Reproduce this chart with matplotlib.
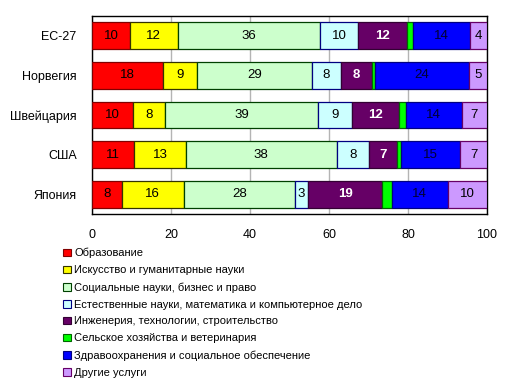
import matplotlib
matplotlib.use("Agg")
import matplotlib.pyplot as plt
from matplotlib.patches import Patch
import numpy as np

plt.rcParams['font.family'] = ['Liberation Sans', 'DejaVu Sans']

countries = ["ЕС-27", "Норвегия", "Швейцария", "США", "Япония"]
series_names = [
    "Образование",
    "Искусство и гуманитарные науки",
    "Социальные науки, бизнес и право",
    "Естественные науки, математика и компьютерное дело",
    "Инженерия, технологии, строительство",
    "Сельское хозяйства и ветеринария",
    "Здравоохранения и социальное обеспечение",
    "Другие услуги",
]
# values per series (order of countries)
education   = [9.6, 18.0, 10.4, 10.6, 7.6]
arts        = [12.1, 8.5, 8.1, 13.2, 15.6]
social      = [36.0, 29.2, 38.8, 38.1, 28.2]
science     = [9.7, 7.3, 8.6, 8.3, 3.3]
engineering = [12.3, 8.0, 11.9, 7.0, 18.8]
agriculture = [1.5, 0.6, 1.7, 1.0, 2.4]
health      = [14.6, 23.9, 14.1, 15.0, 14.1]
other       = [4.2, 4.5, 6.4, 6.8, 10.0]
series = [education, arts, social, science, engineering, agriculture, health, other]

# labels displayed on segments
label_education   = ["10", "18", "10", "11", "8"]
label_arts        = ["12", "9", "8", "13", "16"]
label_social      = ["36", "29", "39", "38", "28"]
label_science     = ["10", "8", "9", "8", "3"]
label_engineering = ["12", "8", "12", "7", "19"]
label_agriculture = ["", "", "", "", ""]
label_health      = ["14", "24", "14", "15", "14"]
label_other       = ["4", "5", "7", "7", "10"]
labels = [label_education, label_arts, label_social, label_science,
          label_engineering, label_agriculture, label_health, label_other]

x_ticks = [0, 20, 40, 60, 80, 100]

colors = ["#FF0000", "#FFFF00", "#CCFFCC", "#CCFFFF", "#660066", "#00FF00", "#0000FF", "#CC99FF"]
edges  = ["#800000", "#333300", "#004000", "#000080", "#330033", "#006600", "#000080", "#660066"]
txtcol = ["black", "black", "black", "black", "white", "black", "#000033", "black"]
txtwt  = ["normal", "normal", "normal", "normal", "bold", "normal", "normal", "normal"]

fig = plt.figure(figsize=(5.13, 3.92), dpi=100)
ax = fig.add_axes([92/513, 1-214/392, (487-92)/513, (214-16)/392])

y = np.arange(len(countries))
left = np.zeros(len(countries))
for vals, lab, c, e, tc, tw in zip(series, labels, colors, edges, txtcol, txtwt):
    bars = ax.barh(y, vals, left=left, height=0.68, color=c, edgecolor=e, linewidth=0.9, zorder=3)
    ax.bar_label(bars, labels=lab, label_type='center', color=tc, fontweight=tw, fontsize=9.5)
    left += np.array(vals)

ax.set_ylim(len(countries) - 0.5, -0.5)
ax.set_xlim(0, 100)
ax.set_yticks(y)
ax.set_yticklabels(countries, fontsize=9)
ax.set_xticks(x_ticks)
ax.set_xticklabels([str(t) for t in x_ticks], fontsize=9)
ax.tick_params(axis='both', length=0)
ax.tick_params(axis='y', pad=11)
ax.tick_params(axis='x', pad=11)
ax.xaxis.grid(True, color="#B4B4B4", linewidth=1.0, zorder=0)
ax.set_axisbelow(True)
for s in ax.spines.values():
    s.set_color("black")
    s.set_linewidth(1.0)

handles = [Patch(facecolor=c, edgecolor=e, linewidth=0.8) for c, e in zip(colors, edges)]
fig.legend(handles, series_names, loc="upper left", bbox_to_anchor=(63/513, 1-248/392),
           frameon=False, fontsize=8, handlelength=0.7, handleheight=0.7,
           handletextpad=0.3, labelspacing=0.62, borderpad=0, borderaxespad=0)

fig.savefig("out.png", dpi=100)
